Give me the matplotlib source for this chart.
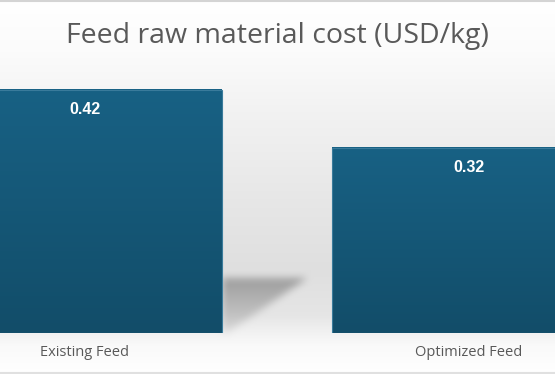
import matplotlib.pyplot as plt
import numpy as np
from matplotlib.path import Path
from matplotlib.colors import to_rgb

categories = ['Existing Feed', 'Optimized Feed']
costs = [0.42, 0.32]
value_labels = ['0.42', '0.32']

W, H = 555, 374
fig = plt.figure(figsize=(W / 100, H / 100), dpi=100)

ax = fig.add_axes([0, 41 / H, 1, 273 / H])
ax.set_facecolor('none')

x = np.arange(len(categories))
bar_w = 0.711
bars = ax.bar(x, costs, width=bar_w, color='none', edgecolor='#3a7b9b', lw=0.8, zorder=4)

# vertical gradient fill for each bar
top_c = np.array(to_rgb('#186184'))
bot_c = np.array(to_rgb('#124d69'))
t = np.linspace(0, 1, 128)[:, None, None]
grad = bot_c * (1 - t) + top_c * t
for b in bars:
    ax.imshow(grad, extent=(b.get_x(), b.get_x() + b.get_width(), 0, b.get_height()),
              origin='lower', aspect='auto', zorder=3, interpolation='bilinear')

for b, lab in zip(bars, value_labels):
    ax.annotate(lab, (b.get_x() + b.get_width() / 2, b.get_height()),
                xytext=(0, -13.8), textcoords='offset points', ha='center', va='center',
                color='white', fontsize=11.5, fontweight='bold', family='Liberation Sans', zorder=5)

ax.set_xlim(-85 / 384, 470 / 384)
ax.set_ylim(0, 273 / 578.6)
ax.set_xticks(x)
ax.set_xticklabels(categories, fontsize=10.5, color='#595959', family='Open Sans')
ax.tick_params(axis='x', length=0, pad=9)
ax.set_yticks([])
for s in ax.spines.values():
    s.set_visible(False)

# soft grey "wall" behind the bars
rows = np.arange(H)
stops_y = [0, 50, 110, 200, 270, 315, 333, 345, 374]
stops_v = [1.0, 0.985, 0.95, 0.905, 0.875, 0.9, 0.95, 0.98, 1.0]
prof = np.interp(rows, stops_y, stops_v)
shade = np.repeat(prof[:, None], W, axis=1)

# blurred floor shadow cast to the right of the first bar
b0 = bars[0]
px, py = ax.transData.transform((b0.get_x() + b0.get_width(), 0))
py = H - py
poly = Path([(px, py - 55), (px + 86, py - 55), (px + 6, py), (px, py)])
gx, gy = np.meshgrid(np.arange(W) + 0.5, np.arange(H) + 0.5)
mask = poly.contains_points(np.c_[gx.ravel(), gy.ravel()]).reshape(H, W).astype(float)
k = np.ones(9) / 9
for _ in range(2):
    mask = np.apply_along_axis(lambda r: np.convolve(r, k, mode='same'), 1, mask)
    mask = np.apply_along_axis(lambda c: np.convolve(c, k, mode='same'), 0, mask)
depth = np.clip((py - gy) / 55, 0, 1)
shade = shade * (1 - mask * (0.08 + 0.22 * depth))
bg = np.dstack([shade] * 3)

ax_bg = fig.add_axes([0, 0, 1, 1], zorder=-2)
ax_bg.imshow(bg, extent=(0, W, H, 0), aspect='auto', interpolation='bilinear')
ax_bg.set_xlim(0, W)
ax_bg.set_ylim(H, 0)
ax_bg.axis('off')
ax_bg.axhline(1, color='#d4d4d4', lw=1.5)
ax_bg.axhline(372.5, color='#e0e0e0', lw=1.5)

fig.text(0.5, 1 - 36 / H, 'Feed raw material cost (USD/kg)', ha='center', va='center',
         fontsize=20.5, color='#595959', family='Open Sans')

fig.savefig('out.png', dpi=100)
